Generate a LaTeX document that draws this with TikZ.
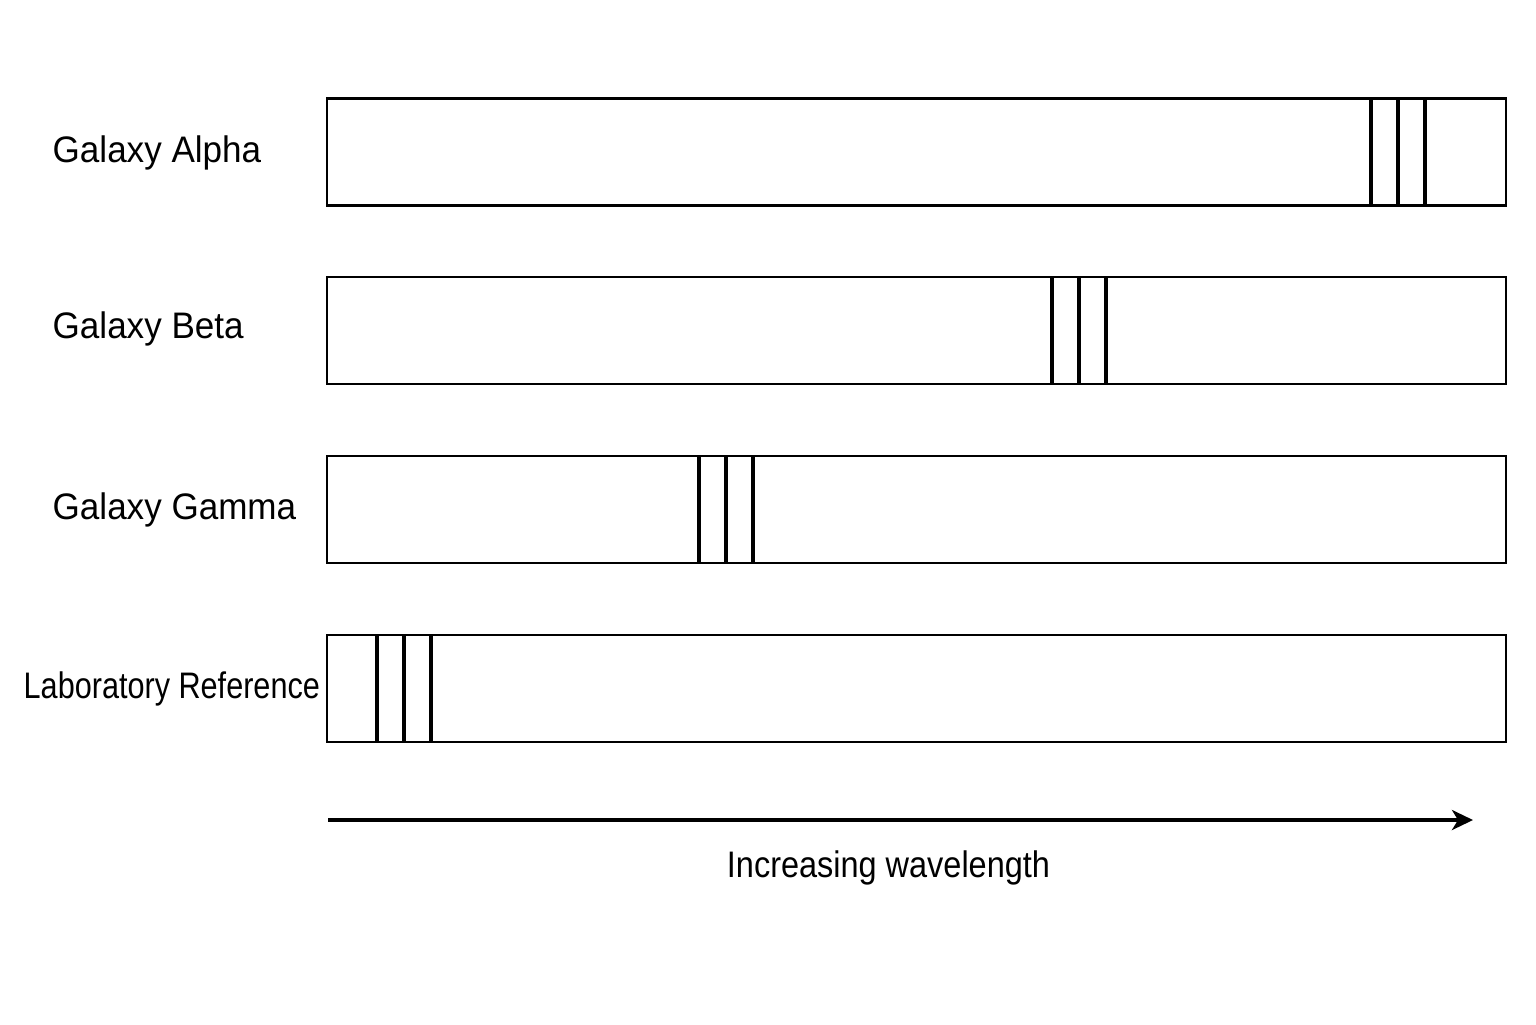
\documentclass[tikz,border=0pt]{standalone}
\usepackage{fontspec}
\setmainfont{Liberation Sans}
\usetikzlibrary{arrows.meta}

\tikzset{
    spectrum/.style={draw, line width=0.8pt, minimum width=11.79cm, minimum height=1.07cm,
        inner sep=0pt, outer sep=0pt, anchor=west},
    specline/.style={line width=1.1pt},
    rowlabel/.style={anchor=base west, inner sep=0pt, font=\fontsize{10.5}{12}\selectfont}
}

\begin{document}
\begin{tikzpicture}
    \useasboundingbox (0,0) rectangle (15.36,-10.24);

    % Spectrum bars
    \node[spectrum] (alpha) at (3.27,-1.52) {};
    \node[spectrum] (beta)  at (3.27,-3.305) {};
    \node[spectrum] (gamma) at (3.27,-5.095) {};
    \node[spectrum] (lab)   at (3.27,-6.885) {};

    % Absorption lines
    \foreach \bar/\x in {alpha/13.71, beta/10.52, gamma/6.99, lab/3.77} {
        \foreach \dx in {0, 0.27, 0.54} {
            \draw[specline] (\x+\dx,0 |- \bar.north) -- (\x+\dx,0 |- \bar.south);
        }
    }

    % Row labels
    \node[rowlabel] (alphalabel) at (0.52,-1.62) {\scalebox{0.95}[1]{Galaxy Alpha}};
    \node[rowlabel] (betalabel)  at (0.52,-3.38) {\scalebox{0.95}[1]{Galaxy Beta}};
    \node[rowlabel] (gammalabel) at (0.52,-5.19) {\scalebox{0.95}[1]{Galaxy Gamma}};
    \node[rowlabel] (lablabel)   at (0.23,-6.98) {\scalebox{0.83}[1]{Laboratory Reference}};

    % Wavelength axis
    \coordinate (axisstart) at (3.28,-8.20);
    \coordinate (axisend) at (14.73,-8.20);
    \draw[line width=1pt, -{Stealth[length=2.1mm, width=2mm, inset=0.6mm]}] (axisstart) -- (axisend);
    \node[anchor=base, inner sep=0pt, font=\fontsize{10.5}{12}\selectfont] (axislabel) at (8.885,-8.77)
        {\scalebox{0.88}[1]{Increasing wavelength}};

\end{tikzpicture}
\end{document}
